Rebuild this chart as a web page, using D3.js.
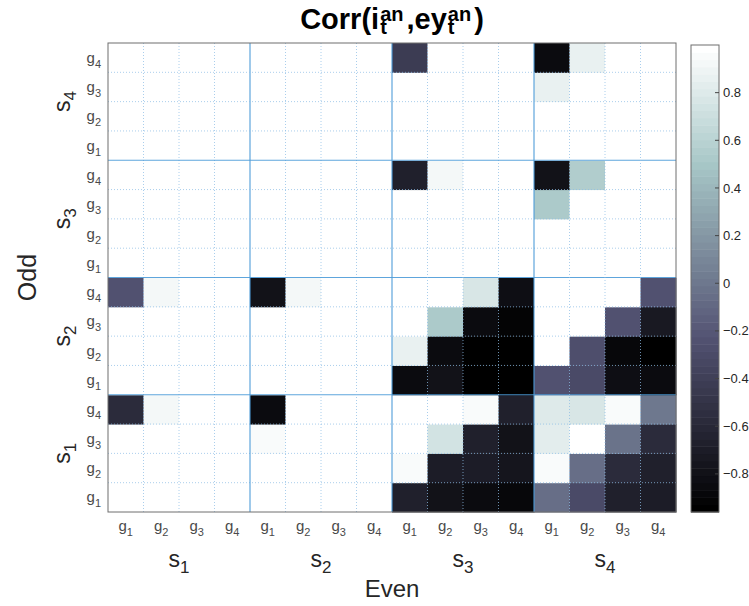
<!DOCTYPE html>
<html>
<head>
<meta charset="utf-8">
<script src="https://cdn.jsdelivr.net/npm/d3@7"></script>
<style>
  body { margin: 0; background: #fff; }
  text { font-family: "Liberation Sans", Arial, Helvetica, sans-serif; }
</style>
</head>
<body>
<div id="chart"></div>
<script>
// sector / group labels (subscripts)
const sectors = ["1", "2", "3", "4"];
const groups = ["1", "2", "3", "4"];

// correlation rows for each odd sector, rows g1..g4, columns even s1g1 .. s4g4
const oddS1 = [
  [1, 1, 1, 1, 1, 1, 1, 1, -0.66, -0.79, -0.85, -0.88, -0.06, -0.31, -0.66, -0.70],
  [1, 1, 1, 1, 1, 1, 1, 1, 0.94, -0.71, -0.71, -0.75, 0.94, -0.06, -0.59, -0.66],
  [0.97, 1, 1, 1, 0.94, 1, 1, 1, 1, 0.74, -0.67, -0.79, 0.83, 0.97, -0.02, -0.59],
  [-0.59, 0.93, 1, 1, -0.84, 0.97, 1, 1, 0.97, 0.98, 0.94, -0.66, 0.80, 0.77, 0.94, 0.02]
];
const oddS2 = [
  [1, 1, 1, 1, 1, 1, 1, 1, -0.84, -0.79, -0.96, -0.95, -0.23, -0.31, -0.81, -0.85],
  [1, 1, 1, 1, 1, 1, 1, 1, 0.86, -0.84, -0.96, -0.95, 1, -0.26, -0.87, -0.93],
  [0.97, 1, 1, 1, 0.97, 1, 1, 1, 1, 0.53, -0.86, -0.92, 1, 0.97, -0.23, -0.72],
  [-0.23, 0.92, 1, 1, -0.80, 0.93, 1, 1, 1, 1, 0.76, -0.82, 0.97, 0.97, 1, -0.23]
];
const oddS3 = [
  [1, 1, 1, 1, 1, 1, 1, 1, 1, 1, 1, 1, 1, 1, 1, 1],
  [1, 1, 1, 1, 1, 1, 1, 1, 1, 1, 1, 1, 1, 1, 1, 1],
  [1, 1, 1, 1, 1, 1, 1, 1, 0.97, 1, 1, 1, 0.53, 0.97, 1, 1],
  [1, 1, 1, 1, 1, 1, 1, 1, -0.67, 0.92, 1, 1, -0.80, 0.57, 1, 1]
];
const oddS4 = [
  [1, 1, 1, 1, 1, 1, 1, 1, 1, 1, 1, 1, 1, 1, 1, 1],
  [1, 1, 1, 1, 1, 1, 1, 1, 1, 1, 1, 1, 1, 1, 1, 1],
  [1, 1, 1, 1, 1, 1, 1, 1, 1, 1, 1, 1, 0.86, 1, 1, 1],
  [1, 1, 1, 1, 1, 1, 1, 1, -0.43, 1, 1, 1, -0.86, 0.86, 1, 1]
];

const colorLimits = [-0.96, 1];
const colorTicks = [-0.8, -0.6, -0.4, -0.2, 0, 0.2, 0.4, 0.6, 0.8];

const width = 749, height = 606;
const plot = {x0: 108, x1: 676, y0: 43, y1: 512};
const bar = {x0: 691, x1: 719, y0: 45, y1: 512};

// matlab bone colormap
function bone(t) {
  const hr = Math.min(1, t / 0.375);
  const hg = Math.max(0, Math.min(1, (t - 0.375) / 0.375));
  const hb = Math.max(0, (t - 0.75) / 0.25);
  return d3.rgb(255 * (7 * t + hb) / 8, 255 * (7 * t + hg) / 8, 255 * (7 * t + hr) / 8).formatHex();
}
const palette = d3.range(64).map(i => bone(i / 63));
const color = d3.scaleQuantize().domain(colorLimits).range(palette);

const keys = [];
sectors.forEach(s => groups.forEach(g => keys.push(s + "-" + g)));

const cells = [];
[oddS1, oddS2, oddS3, oddS4].forEach((block, si) => {
  block.forEach((row, gi) => {
    row.forEach((v, ci) => cells.push({row: keys[si * 4 + gi], col: keys[ci], v}));
  });
});

const x = d3.scaleBand().domain(keys).range([plot.x0, plot.x1]);
const y = d3.scaleBand().domain(keys).range([plot.y1, plot.y0]);

const svg = d3.select("#chart").append("svg")
    .attr("width", width)
    .attr("height", height);

svg.append("g")
  .selectAll("rect")
  .data(cells)
  .join("rect")
    .attr("x", d => x(d.col))
    .attr("y", d => y(d.row))
    .attr("width", x.bandwidth() + 0.5)
    .attr("height", y.bandwidth() + 0.5)
    .attr("fill", d => color(d.v));

// grid on top
const grid = svg.append("g");
keys.forEach((k, i) => {
  if (i === 0) return;
  const major = i % 4 === 0;
  grid.append("line")
      .attr("x1", x(k)).attr("x2", x(k))
      .attr("y1", plot.y0).attr("y2", plot.y1)
      .attr("stroke", major ? "#4d9bd8" : "#8dbde6")
      .attr("stroke-opacity", major ? 0.9 : 0.75)
      .attr("stroke-width", major ? 1.2 : 1)
      .attr("stroke-dasharray", major ? null : "1,2");
  grid.append("line")
      .attr("y1", y(k) + y.bandwidth()).attr("y2", y(k) + y.bandwidth())
      .attr("x1", plot.x0).attr("x2", plot.x1)
      .attr("stroke", major ? "#4d9bd8" : "#8dbde6")
      .attr("stroke-opacity", major ? 0.9 : 0.75)
      .attr("stroke-width", major ? 1.2 : 1)
      .attr("stroke-dasharray", major ? null : "1,2");
});

svg.append("rect")
    .attr("x", plot.x0).attr("y", plot.y0)
    .attr("width", plot.x1 - plot.x0).attr("height", plot.y1 - plot.y0)
    .attr("fill", "none").attr("stroke", "#6e6e6e").attr("stroke-width", 1);

// label with subscript
function subLabel(sel, base, sub, size, subSize, dy) {
  sel.append("tspan").text(base);
  sel.append("tspan").attr("font-size", subSize).attr("dy", dy).text(sub);
}

// y tick labels
keys.forEach(k => {
  const t = svg.append("text")
      .attr("x", 101)
      .attr("y", y(k) + y.bandwidth() / 2 + 5)
      .attr("text-anchor", "end")
      .attr("font-size", 15)
      .attr("fill", "#4a4a4a");
  subLabel(t, "g", k.split("-")[1], 15, 11, 5);
});

// x tick labels
keys.forEach(k => {
  const t = svg.append("text")
      .attr("x", x(k) + x.bandwidth() / 2)
      .attr("y", 531)
      .attr("text-anchor", "middle")
      .attr("font-size", 15)
      .attr("fill", "#4a4a4a");
  subLabel(t, "g", k.split("-")[1], 15, 11, 5);
});

// sector labels
sectors.forEach(s => {
  const cx = x(s + "-2") + x.bandwidth();
  const t = svg.append("text")
      .attr("x", cx)
      .attr("y", 567)
      .attr("text-anchor", "middle")
      .attr("font-size", 23)
      .attr("fill", "#262626");
  subLabel(t, "s", s, 23, 17, 6);

  const cy = y(s + "-2");
  const r = svg.append("text")
      .attr("transform", `translate(70,${cy}) rotate(-90)`)
      .attr("text-anchor", "middle")
      .attr("font-size", 23)
      .attr("fill", "#262626");
  subLabel(r, "s", s, 23, 17, 6);
});

svg.append("text")
    .attr("x", (plot.x0 + plot.x1) / 2)
    .attr("y", 597)
    .attr("text-anchor", "middle")
    .attr("font-size", 24)
    .attr("fill", "#262626")
    .text("Even");

svg.append("text")
    .attr("transform", `translate(36,${(plot.y0 + plot.y1) / 2}) rotate(-90)`)
    .attr("text-anchor", "middle")
    .attr("font-size", 25)
    .attr("fill", "#262626")
    .text("Odd");

// title Corr(i_t^an, ey_t^an)
const title = svg.append("text")
    .attr("x", (plot.x0 + plot.x1) / 2)
    .attr("y", 29)
    .attr("text-anchor", "middle")
    .attr("font-size", 29)
    .attr("font-weight", "bold")
    .attr("fill", "#000");
function stacked(sel) {
  const sub = sel.append("tspan").attr("font-size", 20).attr("dx", 1).attr("dy", 5).text("t");
  const wt = sub.node().getComputedTextLength();
  sel.append("tspan").attr("font-size", 20).attr("dx", -wt).attr("dy", -13).text("an");
}
title.append("tspan").text("Corr(i");
stacked(title);
title.append("tspan").attr("dx", 3).attr("dy", 8).text(",ey");
stacked(title);
title.append("tspan").attr("dx", 3).attr("dy", 8).text(")");

// colorbar
const cy = d3.scaleLinear().domain(colorLimits).range([bar.y1, bar.y0]);
const step = (colorLimits[1] - colorLimits[0]) / 64;
svg.append("g")
  .selectAll("rect")
  .data(palette)
  .join("rect")
    .attr("x", bar.x0)
    .attr("width", bar.x1 - bar.x0)
    .attr("y", (d, i) => cy(colorLimits[0] + (i + 1) * step))
    .attr("height", (d, i) => cy(colorLimits[0] + i * step) - cy(colorLimits[0] + (i + 1) * step) + 0.5)
    .attr("fill", d => d);

svg.append("rect")
    .attr("x", bar.x0).attr("y", bar.y0)
    .attr("width", bar.x1 - bar.x0).attr("height", bar.y1 - bar.y0)
    .attr("fill", "none").attr("stroke", "#6e6e6e").attr("stroke-width", 1);

const cbAxis = svg.append("g");
colorTicks.forEach(v => {
  cbAxis.append("line")
      .attr("x1", bar.x1 - 4).attr("x2", bar.x1)
      .attr("y1", cy(v)).attr("y2", cy(v))
      .attr("stroke", "#444");
  cbAxis.append("text")
      .attr("x", bar.x1 + 4)
      .attr("y", cy(v))
      .attr("dy", "0.35em")
      .attr("font-size", 13)
      .attr("fill", "#262626")
      .text(d3.format("")(v));
});
</script>
</body>
</html>
